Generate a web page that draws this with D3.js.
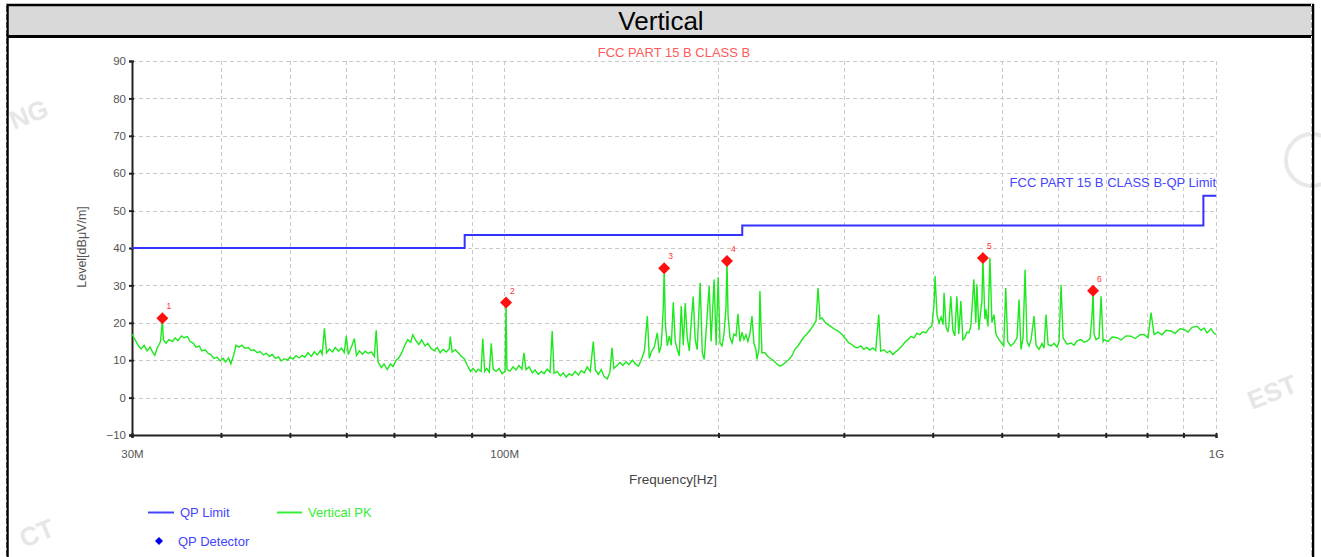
<!DOCTYPE html>
<html>
<head>
<meta charset="utf-8">
<script src="https://cdn.jsdelivr.net/npm/d3@7"></script>
<style>
  html, body { margin: 0; padding: 0; background: #fff; }
  svg { display: block; font-family: "Liberation Sans", Arial, sans-serif; }
</style>
</head>
<body>
<svg id="chart" width="1321" height="557"></svg>
<script>
// values
const yTicks = [-10, 0, 10, 20, 30, 40, 50, 60, 70, 80, 90];
const xTickLabels = { 30: "30M", 100: "100M", 1000: "1G" };

// QP limit, steps in MHz / dBuV/m
const limitFreq = [30, 88, 216, 960, 1000];
const limitLevel = [40, 43.5, 46, 54, 54];

// QP detector marks
const markerFreq = [33.1, 100.6, 167.8, 205.6, 470.5, 671.9];
const markerLevel = [21.2, 25.4, 34.6, 36.5, 37.3, 28.6];

// Vertical PK trace [MHz, dBuV/m]
const peakTrace = [
  [30.0,17.0],[30.3,15.5],[30.6,14.0],[30.9,13.0],[31.2,14.0],[31.5,12.5],[31.8,13.5],[32.1,12.0],
  [32.3,11.3],[32.5,13.0],[32.7,14.0],[32.9,15.0],[33.1,21.0],[33.2,15.5],[33.5,14.5],[33.8,15.5],
  [34.2,15.0],[34.5,16.0],[34.8,15.2],[35.2,16.5],[35.5,16.0],[35.9,16.3],[36.2,15.0],[36.6,14.5],
  [36.9,13.5],[37.3,13.8],[37.6,12.5],[38.0,12.8],[38.4,11.8],[38.7,11.5],[39.1,10.5],[39.5,10.8],
  [39.9,9.8],[40.3,10.5],[40.6,9.5],[41.0,10.6],[41.3,9.0],[41.7,11.5],[42.0,14.0],[42.4,13.5],
  [42.8,14.0],[43.2,13.2],[43.7,13.4],[44.1,12.6],[44.5,12.8],[45.0,12.0],[45.4,12.3],[45.9,11.4],
  [46.3,11.9],[46.8,11.0],[47.2,11.6],[47.7,10.5],[48.2,10.9],[48.6,9.8],[49.1,10.4],[49.6,10.0],
  [50.0,10.8],[50.5,10.3],[51.0,11.2],[51.5,10.6],[52.0,11.3],[52.5,10.8],[53.0,12.0],[53.6,11.0],
  [54.1,12.3],[54.6,11.4],[55.2,12.6],[55.5,11.6],[55.9,18.5],[56.3,12.0],[56.8,13.0],[57.4,12.2],
  [57.9,13.4],[58.5,12.4],[59.1,13.2],[59.6,12.0],[60.0,16.5],[60.4,11.5],[61.0,13.5],[61.6,15.8],
  [62.0,11.2],[62.6,12.5],[63.2,11.6],[63.8,12.4],[64.4,11.8],[65.1,12.2],[65.7,11.0],[66.1,18.0],
  [66.5,9.5],[67.2,8.0],[67.8,9.0],[68.5,7.5],[69.2,9.0],[69.8,8.3],[70.5,10.0],[71.1,10.6],
  [71.8,12.0],[72.5,14.0],[73.2,15.5],[73.9,14.8],[74.4,16.8],[75.2,15.2],[75.9,14.2],[76.6,15.4],
  [77.4,13.8],[78.1,14.5],[78.9,13.2],[79.7,12.5],[80.5,13.4],[81.3,12.0],[82.1,12.9],[82.9,12.2],
  [83.7,13.0],[84.0,16.3],[84.5,12.2],[85.4,12.8],[86.2,12.0],[87.1,11.0],[87.9,10.4],[88.8,8.5],
  [89.7,7.0],[90.4,7.8],[91.3,6.8],[91.9,7.6],[92.8,7.0],[93.3,15.8],[93.9,7.0],[94.5,7.8],
  [95.3,6.8],[95.9,14.5],[96.5,7.6],[97.4,7.0],[98.4,7.8],[99.3,6.4],[100.3,7.0],[100.6,25.4],
  [100.9,7.5],[101.9,7.1],[102.9,8.2],[103.9,7.4],[104.9,8.6],[105.9,7.6],[106.6,12.0],[107.3,7.5],
  [108.4,8.2],[109.5,6.6],[110.5,7.4],[111.6,6.2],[112.7,7.0],[113.8,6.4],[114.9,7.6],[116.0,6.8],
  [116.8,17.8],[117.5,6.5],[118.7,7.0],[119.9,5.8],[121.0,6.6],[122.2,5.5],[123.4,6.4],[124.6,5.9],
  [125.8,7.0],[127.1,6.0],[128.3,7.2],[129.6,6.6],[130.8,8.2],[132.1,7.0],[133.4,15.0],[134.3,7.4],
  [135.6,6.2],[136.9,7.5],[138.2,5.6],[139.6,5.0],[140.8,6.8],[141.7,13.3],[142.6,7.8],[144.0,8.6],
  [145.4,9.4],[146.8,8.6],[148.3,9.6],[149.7,8.8],[151.4,10.0],[152.9,9.0],[154.4,8.4],[155.9,10.2],
  [157.4,12.5],[158.9,21.8],[159.9,10.5],[160.9,12.2],[162.5,13.5],[164.1,17.3],[165.1,12.0],[166.2,14.0],
  [167.3,24.0],[167.8,34.5],[168.4,20.0],[169.5,13.8],[170.6,16.5],[171.7,14.0],[172.8,25.5],[173.9,15.0],
  [175.0,13.0],[176.2,11.2],[177.3,24.5],[178.5,14.0],[179.6,25.3],[180.8,16.0],[182.0,12.5],[183.1,20.0],
  [184.3,27.0],[185.5,15.5],[186.7,12.8],[188.5,30.7],[189.8,12.0],[191.0,10.2],[192.2,18.0],[194.1,29.8],
  [195.3,15.0],[197.2,31.6],[198.5,14.0],[199.8,32.2],[201.0,14.6],[202.3,13.8],[203.6,17.0],[204.9,24.0],
  [205.6,36.4],[206.3,22.0],[207.6,16.0],[209.0,14.6],[210.3,17.0],[211.7,16.5],[213.0,22.4],[214.4,15.0],
  [215.8,17.5],[217.2,15.5],[218.6,16.8],[220.0,15.0],[221.4,17.0],[222.9,21.8],[224.3,14.5],[225.8,12.8],
  [226.5,10.2],[228.0,13.0],[228.7,28.5],[230.2,12.0],[232.4,12.0],[234.7,11.0],[237.0,10.4],[239.3,9.8],
  [241.6,9.0],[244.0,8.4],[246.4,8.8],[248.8,9.6],[251.2,10.2],[253.7,11.2],[256.1,12.9],[258.6,13.8],
  [261.1,15.0],[263.7,16.2],[266.3,17.0],[268.9,18.0],[271.5,19.1],[274.2,20.5],[276.0,29.3],[277.8,21.0],
  [279.6,21.3],[282.2,20.2],[285.0,19.5],[287.8,19.0],[290.6,18.4],[293.4,18.0],[296.3,17.4],[299.2,16.6],
  [302.1,15.6],[304.9,14.6],[307.9,14.2],[310.9,13.5],[313.9,13.3],[317.0,13.8],[320.0,12.9],[323.1,13.4],
  [326.3,12.7],[329.4,13.3],[332.6,12.6],[335.9,22.2],[338.0,12.4],[341.7,12.8],[345.0,12.0],[348.3,12.5],
  [351.7,11.5],[355.1,12.3],[358.6,13.0],[362.1,13.8],[365.6,14.8],[369.2,15.5],[372.8,16.4],[376.4,16.0],
  [380.0,17.2],[383.7,16.8],[387.4,17.6],[391.2,17.3],[395.0,18.5],[398.8,19.1],[401.7,25.0],[403.0,32.5],
  [405.6,22.0],[408.3,20.0],[410.9,21.5],[413.6,19.5],[414.9,28.0],[417.6,19.0],[420.0,17.5],[421.4,19.1],
  [424.1,27.1],[426.9,18.0],[429.6,16.5],[432.4,27.1],[435.2,17.0],[438.1,25.8],[440.9,15.5],[443.7,16.0],
  [446.6,17.5],[449.5,17.3],[452.4,19.0],[453.9,23.0],[456.9,31.6],[459.8,20.0],[461.4,30.3],[464.4,18.0],
  [465.9,20.9],[469.0,26.0],[470.5,37.2],[473.5,21.0],[475.1,23.6],[478.2,19.0],[481.3,37.4],[484.4,20.0],
  [487.6,22.2],[490.7,17.0],[495.5,15.5],[500.0,14.5],[503.3,13.8],[506.5,29.3],[509.8,15.0],[514.8,13.8],
  [519.8,14.5],[525.4,16.0],[528.8,26.2],[532.2,12.9],[535.7,16.0],[539.2,34.2],[542.7,15.0],[546.2,13.8],
  [549.8,15.5],[555.1,21.8],[558.7,14.0],[564.1,12.9],[569.6,14.5],[573.3,13.2],[577.1,22.2],[580.8,14.2],
  [586.5,13.8],[592.2,14.5],[598.0,13.5],[601.9,15.0],[605.8,30.2],[609.8,16.0],[611.7,15.5],[617.7,14.3],
  [625.7,14.6],[631.8,14.0],[638.0,15.2],[646.3,15.5],[652.6,14.8],[658.9,15.1],[665.4,15.8],[669.7,22.0],
  [671.9,28.5],[674.1,17.0],[678.4,15.5],[685.0,16.0],[689.5,27.1],[694.0,15.0],[696.2,15.5],[705.3,15.0],
  [714.5,16.2],[726.2,16.0],[735.6,15.4],[747.5,16.5],[759.7,16.4],[769.6,15.8],[782.2,16.8],[792.4,16.9],
  [802.6,16.0],[810.5,22.7],[818.4,16.9],[829.0,17.5],[839.8,16.8],[850.7,18.0],[864.6,17.8],[875.9,17.2],
  [890.2,18.4],[901.8,18.2],[913.5,17.5],[925.4,18.8],[940.5,19.1],[952.7,18.0],[962.0,18.6],[971.4,17.3],
  [984.0,18.4],[993.6,17.2],[1000,16.9]
];

const svg = d3.select("#chart");
const plot = { left: 132, right: 1216, top: 61, bottom: 435 };

const x = d3.scaleLog().domain([30, 1000]).range([plot.left, plot.right]);
const y = d3.scaleLinear().domain([-10, 90]).range([plot.bottom, plot.top]);

// square diamond, r = half width
const diamondPath = r => `M0,${-r}L${r},0L0,${r}L${-r},0Z`;

// faint watermarks
const wm = svg.append("g").attr("fill", "#e6e6e6").attr("font-size", 26).attr("font-weight", "bold");
wm.append("text").attr("transform", "translate(14,130) rotate(-22)").text("NG");
wm.append("text").attr("transform", "translate(1252,410) rotate(-22)").text("EST");
wm.append("text").attr("transform", "translate(24,548) rotate(-22)").text("CT");
svg.append("circle").attr("cx", 1312).attr("cy", 160).attr("r", 26)
  .attr("fill", "none").attr("stroke", "#e8e8e8").attr("stroke-width", 4);

// page frame + header band
svg.append("rect").attr("x", 7).attr("y", 5).attr("width", 1306).attr("height", 31).attr("fill", "#d9d9d9");
svg.append("line").attr("x1", 6).attr("x2", 1314).attr("y1", 5).attr("y2", 5).attr("stroke", "#000").attr("stroke-width", 2.5);
svg.append("line").attr("x1", 6).attr("x2", 1314).attr("y1", 36.5).attr("y2", 36.5).attr("stroke", "#000").attr("stroke-width", 3);
[7.5, 1313].forEach(bx => {
  svg.append("line").attr("x1", bx).attr("x2", bx).attr("y1", 4).attr("y2", 557).attr("stroke", "#000").attr("stroke-width", 2.5);
  svg.append("line").attr("x1", bx - 1.5).attr("x2", bx - 1.5).attr("y1", 4).attr("y2", 557)
    .attr("stroke", "#fff").attr("stroke-width", 1).attr("stroke-dasharray", "2,6");
});
svg.append("text").attr("x", 661).attr("y", 30).attr("text-anchor", "middle")
  .attr("font-size", 26).attr("fill", "#000").text("Vertical");

// grid
const grid = svg.append("g").attr("stroke", "#c8c8c8").attr("stroke-width", 1).attr("stroke-dasharray", "4,3");
grid.selectAll(".gy").data(yTicks.filter(d => d > -10)).enter().append("line")
  .attr("x1", plot.left).attr("x2", plot.right)
  .attr("y1", d => Math.round(y(d)) + 0.5).attr("y2", d => Math.round(y(d)) + 0.5);
grid.selectAll(".gx").data(x.ticks().filter(d => d > 30)).enter().append("line")
  .attr("x1", d => Math.round(x(d)) + 0.5).attr("x2", d => Math.round(x(d)) + 0.5)
  .attr("y1", plot.top).attr("y2", plot.bottom);

// axes
const yAxis = svg.append("g").attr("transform", `translate(${plot.left},0)`)
  .call(d3.axisLeft(y).tickValues(yTicks).tickSize(3).tickPadding(3));
const xAxis = svg.append("g").attr("transform", `translate(0,${plot.bottom})`)
  .call(d3.axisBottom(x).tickValues(x.ticks()).tickSize(3).tickPadding(12)
    .tickFormat(d => xTickLabels[d] || ""));
[yAxis, xAxis].forEach(a => {
  a.select(".domain").attr("stroke", "#222").attr("stroke-width", 2);
  a.selectAll(".tick line").attr("stroke", "#222").attr("stroke-width", 2);
  a.selectAll(".tick text").attr("fill", "#555").attr("font-size", 11.5)
    .attr("font-family", "'Liberation Sans', Arial, sans-serif");
});
yAxis.selectAll(".tick line").attr("x1", 2);
xAxis.selectAll(".tick line").attr("y1", -2);

// titles
svg.append("text").attr("x", 674).attr("y", 57).attr("text-anchor", "middle")
  .attr("font-size", 13).attr("fill", "#ff5a5a").text("FCC PART 15 B CLASS B");
svg.append("text").attr("transform", "translate(86,247) rotate(-90)").attr("text-anchor", "middle")
  .attr("font-size", 12.5).attr("fill", "#555").text("Level[dBμV/m]");
svg.append("text").attr("x", 673).attr("y", 484).attr("text-anchor", "middle")
  .attr("font-size", 13.5).attr("fill", "#444").text("Frequency[Hz]");

// PK trace
const line = d3.line().x(d => x(d[0])).y(d => y(d[1]));
svg.append("path").datum(peakTrace).attr("d", line)
  .attr("fill", "none").attr("stroke", "#1ee81e").attr("stroke-width", 1.4);

// QP limit
const limitData = limitFreq.map((f, i) => [f, limitLevel[i]]);
svg.append("path").datum(limitData)
  .attr("d", d3.line().x(d => x(d[0])).y(d => y(d[1])).curve(d3.curveStepAfter))
  .attr("fill", "none").attr("stroke", "#3333ff").attr("stroke-width", 2);
svg.append("text").attr("x", plot.right).attr("y", 187).attr("text-anchor", "end")
  .attr("font-size", 13).attr("fill", "#4444ff").text("FCC PART 15 B CLASS B-QP Limit");

// QP detector markers
const marks = svg.append("g");
markerFreq.forEach((f, i) => {
  const px = x(f), py = y(markerLevel[i]);
  marks.append("path").attr("d", diamondPath(6)).attr("transform", `translate(${px},${py})`).attr("fill", "#ff1010");
  marks.append("text").attr("x", px + 4).attr("y", py - 9).attr("font-size", 8.5).attr("fill", "#ff3030").text(i + 1);
});

// legend
const lg = svg.append("g").attr("font-size", 13);
lg.append("line").attr("x1", 148).attr("x2", 174).attr("y1", 512.5).attr("y2", 512.5).attr("stroke", "#4444ff").attr("stroke-width", 2);
lg.append("text").attr("x", 180).attr("y", 517).attr("fill", "#4444ff").text("QP Limit");
lg.append("line").attr("x1", 277).attr("x2", 302).attr("y1", 512.5).attr("y2", 512.5).attr("stroke", "#33ee33").attr("stroke-width", 2);
lg.append("text").attr("x", 308).attr("y", 517).attr("fill", "#33ee33").text("Vertical PK");
lg.append("path").attr("d", diamondPath(4)).attr("transform", "translate(159,541)").attr("fill", "#0000ee");
lg.append("text").attr("x", 178).attr("y", 546).attr("fill", "#4444ff").text("QP Detector");
</script>
</body>
</html>
